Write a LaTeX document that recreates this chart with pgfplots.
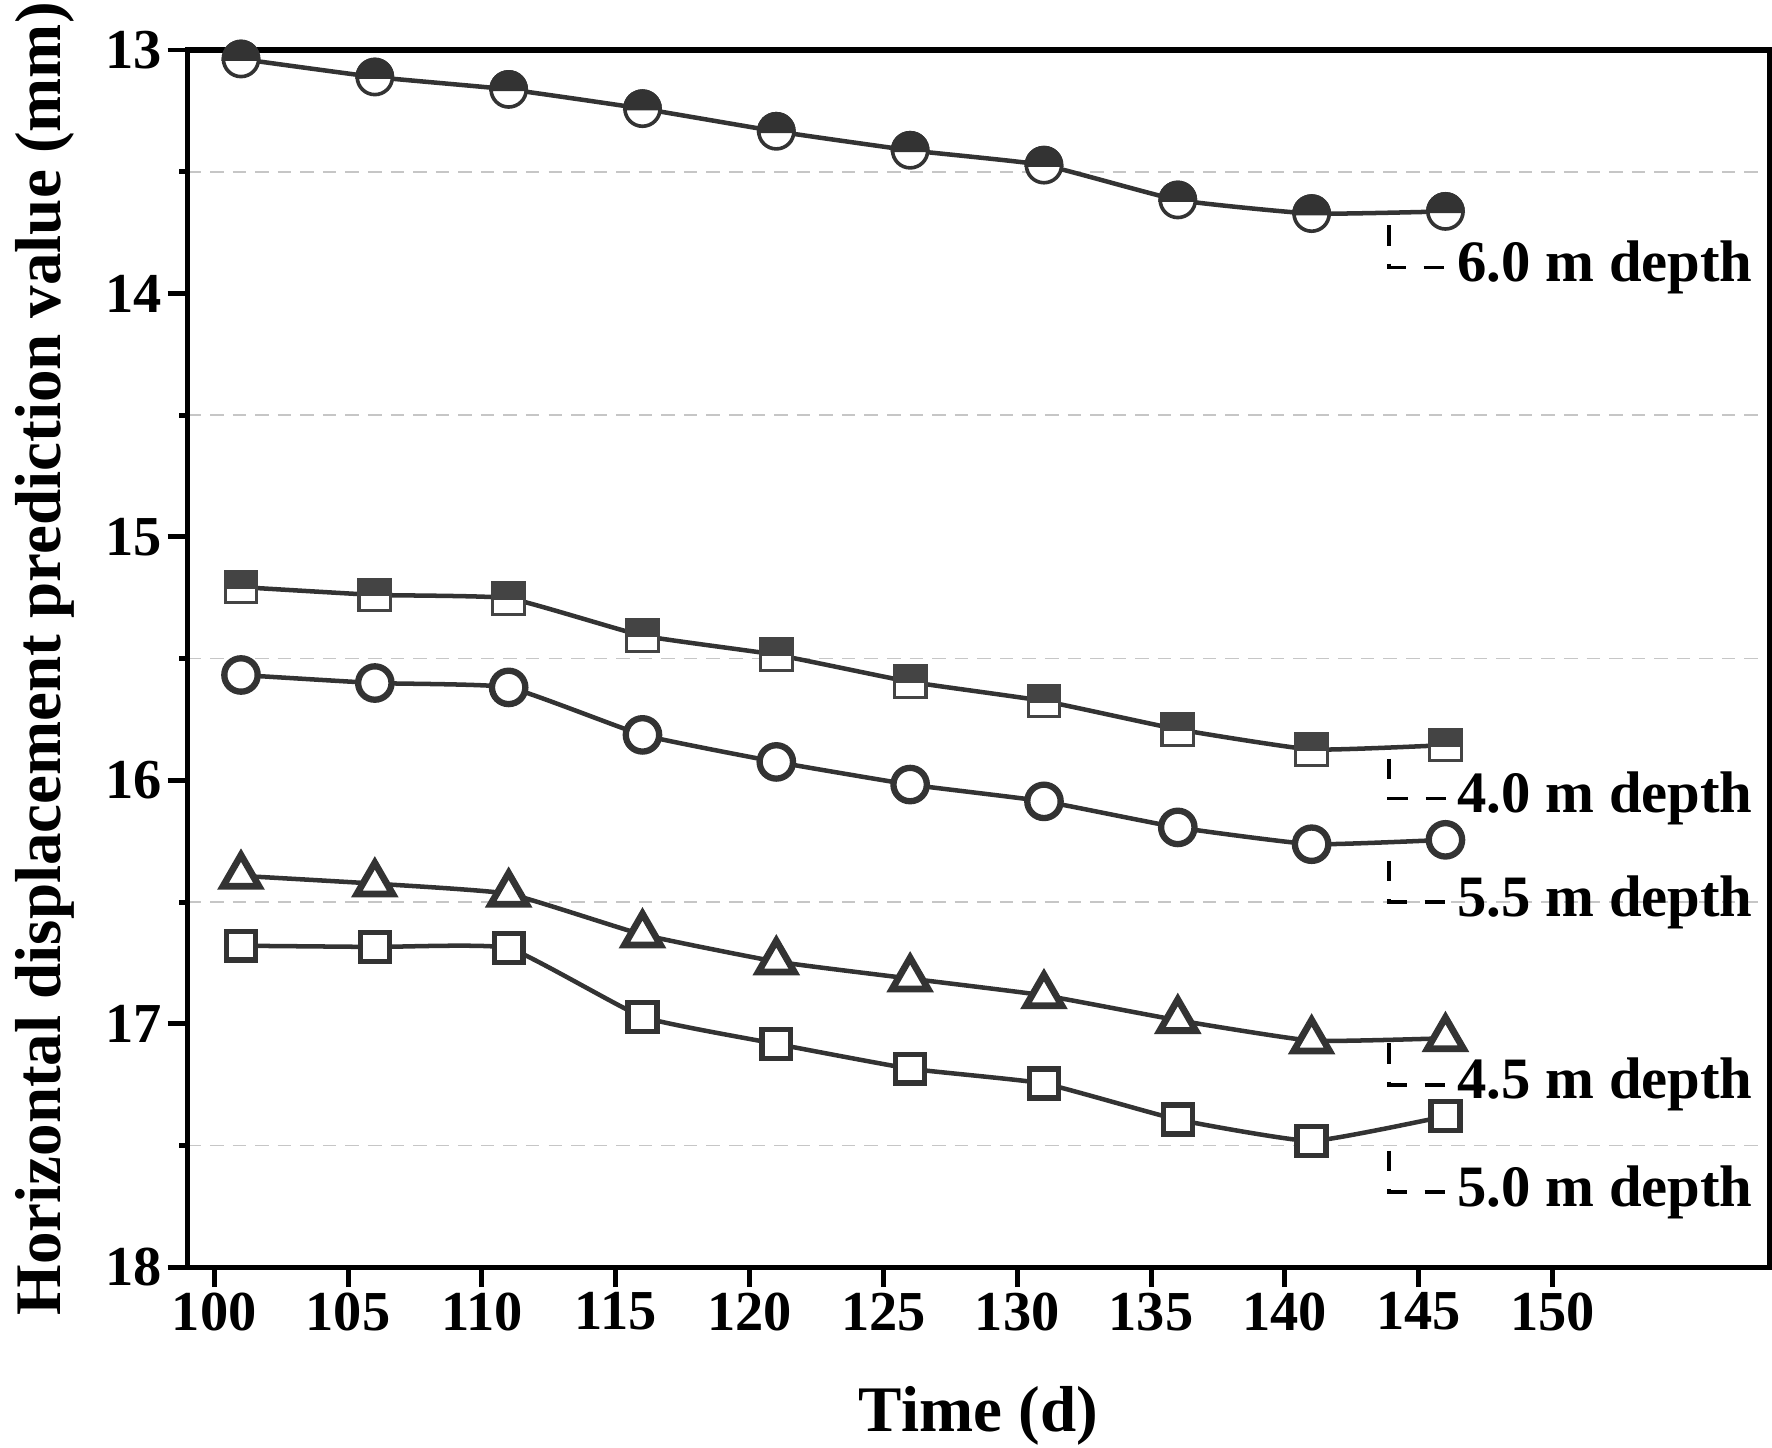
\documentclass[border=0pt]{standalone}
\usepackage{fontspec}
\setmainfont{Liberation Serif}
\usepackage{pgfplots}
\pgfplotsset{compat=1.18}
\definecolor{ln}{HTML}{333333}
\definecolor{sq}{HTML}{444444}

% half-filled marks: upper half dark, lower half white
\pgfdeclareplotmark{hcirc}{%
  \pgfsetfillcolor{white}%
  \pgfpathcircle{\pgfpointorigin}{\pgfplotmarksize}%
  \pgfusepathqfillstroke
  \pgfsetfillcolor{ln}%
  \pgfpathmoveto{\pgfqpoint{\pgfplotmarksize}{0pt}}%
  \pgfpatharc{0}{180}{\pgfplotmarksize}%
  \pgfpathclose
  \pgfusepathqfillstroke}
\pgfdeclareplotmark{hsq}{%
  \pgfsetfillcolor{white}%
  \pgfpathrectangle{\pgfqpoint{-\pgfplotmarksize}{-\pgfplotmarksize}}{\pgfqpoint{2\pgfplotmarksize}{2\pgfplotmarksize}}%
  \pgfusepathqfillstroke
  \pgfsetfillcolor{sq}%
  \pgfpathrectangle{\pgfqpoint{-\pgfplotmarksize}{0pt}}{\pgfqpoint{2\pgfplotmarksize}{\pgfplotmarksize}}%
  \pgfusepathqfillstroke}

\begin{document}
\begin{tikzpicture}
\begin{axis}[
    scale only axis,
    width=350.5pt, height=269.75pt,
    xmin=99, xmax=158.1,
    ymin=13, ymax=18,
    y dir=reverse,
    xtick={100,105,...,150},
    ytick={13,14,...,18},
    minor y tick num=1,
    minor x tick num=0,
    tick align=outside,
    xtick pos=bottom, ytick pos=left,
    major tick length=4.4pt,
    minor tick length=1.8pt,
    every tick/.style={black, line width=1.1pt},
    axis line style={line width=1.2pt},
    yminorgrids=true,
    minor grid style={densely dashed, gray!45, line width=0.35pt},
    /pgf/number format/assume math mode=true,
    ticklabel style={font=\fontsize{12.5}{14}\selectfont\bfseries, inner sep=1pt},
    label style={font=\fontsize{14.4}{16}\selectfont\bfseries, inner sep=0.5pt},
    xlabel={Time (d)},
    ylabel={Horizontal displacement prediction value (mm)},
    xlabel style={at={(axis description cs:0.5,-0.1223)}, anchor=center},
    ylabel style={at={(axis description cs:-0.0899,0.5)}, anchor=center, inner ysep=3.5pt},
    every axis plot/.append style={ln, line width=1pt, smooth, tension=0.25},
]
% 6.0 m depth
\addplot[mark=hcirc, mark size=3.9pt, mark options={draw=ln, line width=0.8pt}]
coordinates {(101,13.037) (106,13.111) (111,13.162) (116,13.241) (121,13.334) (126,13.412) (131,13.473) (136,13.616) (141,13.672) (146,13.663)};
% 4.0 m depth
\addplot[mark=hsq, mark size=3.5pt, mark options={draw=sq, line width=0.7pt}]
coordinates {(101,15.206) (106,15.238) (111,15.252) (116,15.405) (121,15.484) (126,15.595) (131,15.674) (136,15.790) (141,15.873) (146,15.855)};
% 5.5 m depth
\addplot[mark=*, mark size=3.7pt, mark options={draw=ln, fill=white, line width=1.4pt}]
coordinates {(101,15.567) (106,15.600) (111,15.618) (116,15.813) (121,15.924) (126,16.017) (131,16.086) (136,16.193) (141,16.262) (146,16.244)};
% 4.5 m depth
\addplot[mark=triangle*, mark size=4.6pt, mark options={draw=ln, fill=white, line width=1.5pt}]
coordinates {(101,16.392) (106,16.424) (111,16.466) (116,16.633) (121,16.744) (126,16.814) (131,16.883) (136,16.985) (141,17.069) (146,17.059)};
% 5.0 m depth
\addplot[mark=square*, mark size=3.2pt, mark options={draw=ln, fill=white, line width=1.2pt}]
coordinates {(101,16.679) (106,16.684) (111,16.689) (116,16.971) (121,17.082) (126,17.184) (131,17.245) (136,17.393) (141,17.481) (146,17.379)};

\tikzset{lead/.style={black, line width=0.8pt, dash pattern=on 4.5pt off 4pt},
         lab/.style={anchor=west, inner sep=0.5pt, font=\fontsize{13}{15}\selectfont\bfseries}}
\draw[lead] (axis cs:143.9,13.72) |- (axis cs:146.3,13.894) node[lab] {6.0 m depth};
\draw[lead] (axis cs:143.9,15.91) |- (axis cs:146.3,16.075) node[lab] {4.0 m depth};
\draw[lead] (axis cs:143.9,16.33) |- (axis cs:146.3,16.50) node[lab] {5.5 m depth};
\draw[lead] (axis cs:143.9,17.08) |- (axis cs:146.3,17.25) node[lab] {4.5 m depth};
\draw[lead] (axis cs:143.9,17.52) |- (axis cs:146.3,17.69) node[lab] {5.0 m depth};
\end{axis}
\end{tikzpicture}
\end{document}
